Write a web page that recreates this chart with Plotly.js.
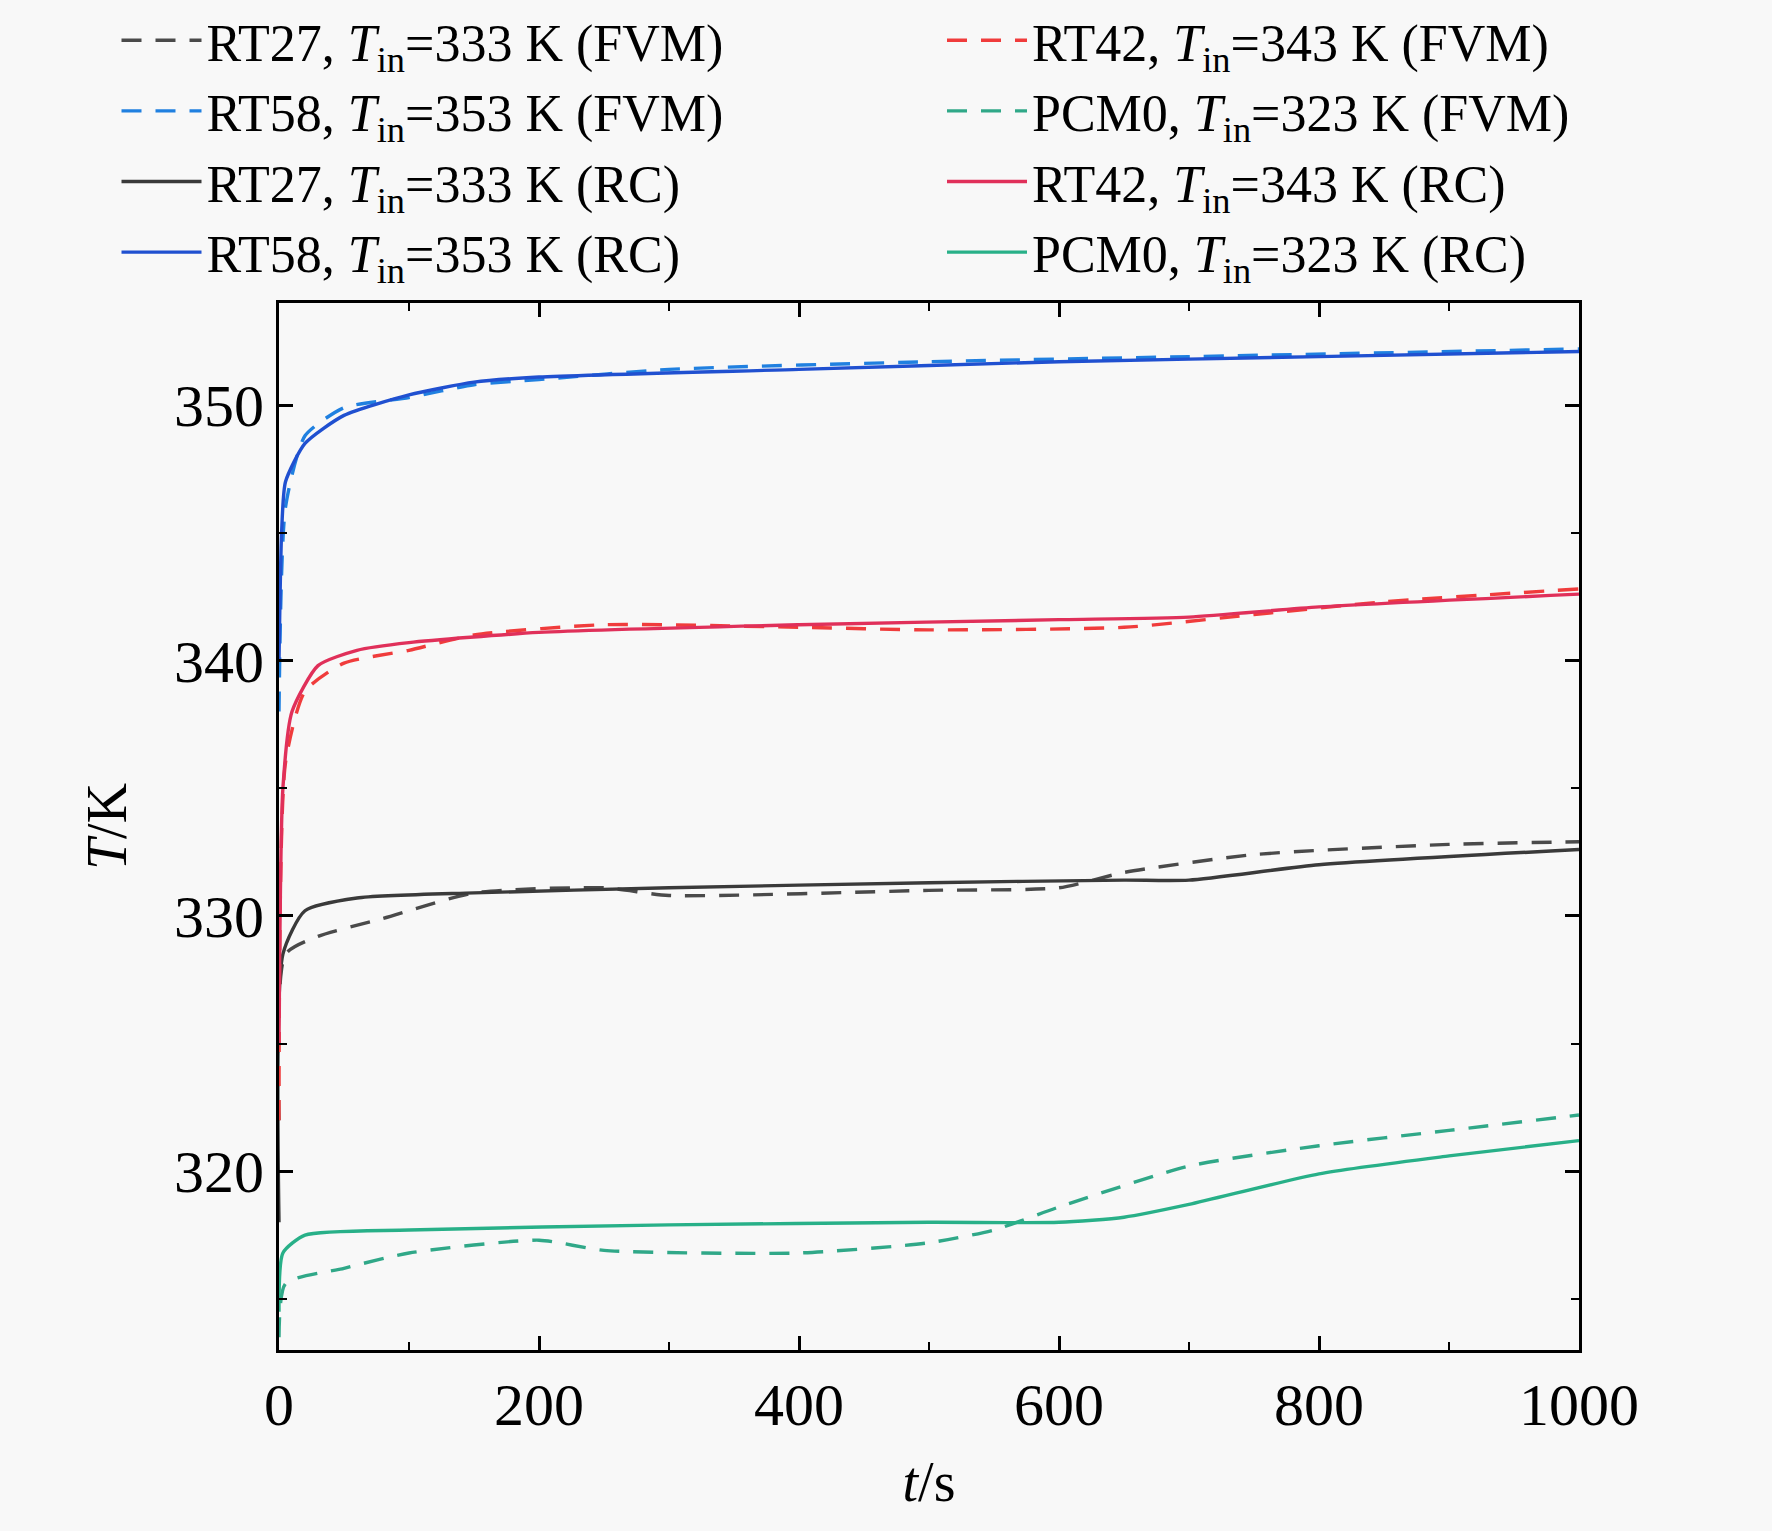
<!DOCTYPE html>
<html><head><meta charset="utf-8">
<script src="https://cdn.plot.ly/plotly-3.0.1.min.js"></script>
<style>body{margin:0;background:#f8f8f8}</style>
</head><body><div id="chart" style="width:1772px;height:1531px"></div>
<script>
// time points and temperatures
var tB_rc = [0, 2, 5, 20, 50, 100, 150, 200, 400, 600, 800, 1000];
var yB_rc = [340, 345, 347, 348.5, 349.6, 350.4, 350.9, 351.1, 351.4, 351.7, 351.9, 352.1];
var tB_fv = [0, 5, 20, 50, 100, 150, 200, 300, 500, 700, 1000];
var yB_fv = [338, 346, 348.8, 349.9, 350.3, 350.8, 351.0, 351.4, 351.7, 351.9, 352.2];
var tR_rc = [0, 3, 10, 30, 60, 100, 200, 400, 600, 700, 800, 1000];
var yR_rc = [325, 335, 338, 339.8, 340.4, 340.7, 341.1, 341.4, 341.6, 341.7, 342.1, 342.6];
var tR_fv = [0, 5, 20, 50, 100, 150, 250, 400, 500, 650, 750, 850, 1000];
var yR_fv = [322, 336, 338.8, 339.9, 340.4, 341, 341.4, 341.3, 341.2, 341.3, 341.8, 342.3, 342.8];
var tG_rc = [0, 3, 20, 60, 150, 300, 500, 650, 700, 800, 1000];
var yG_rc = [318, 328.5, 330.2, 330.7, 330.9, 331.1, 331.3, 331.4, 331.4, 332, 332.6];
var tG_fv = [0, 5, 30, 80, 150, 250, 300, 500, 600, 650, 750, 900, 1000];
var yG_fv = [322, 328.5, 329.2, 329.9, 330.9, 331.1, 330.8, 331, 331.1, 331.7, 332.4, 332.8, 332.9];
var tP_rc = [0, 3, 20, 100, 300, 500, 600, 650, 700, 800, 900, 1000];
var yP_rc = [314.5, 316.8, 317.5, 317.7, 317.9, 318.0, 318.0, 318.2, 318.7, 319.9, 320.6, 321.2];
var tP_fv = [0, 5, 50, 100, 200, 250, 400, 500, 550, 600, 700, 800, 900, 1000];
var yP_fv = [313.5, 315.6, 316.2, 316.8, 317.3, 316.9, 316.8, 317.2, 317.7, 318.6, 320.2, 321.0, 321.6, 322.2];

var sub = ', <i>T</i><sub>in</sub>=';
function tr(x, y, name, color, dash, lg) {
  return {x: x, y: y, name: name, type: 'scatter', mode: 'lines', legend: lg,
    line: {color: color, width: 3.4, dash: dash, shape: 'spline', smoothing: 0.6}};
}
var D = '20px,14px';
var data = [
  tr(tG_fv, yG_fv, 'RT27' + sub + '333 K (FVM)', '#4a4a4a', D, 'legend'),
  tr(tB_fv, yB_fv, 'RT58' + sub + '353 K (FVM)', '#2080e0', D, 'legend'),
  tr(tG_rc, yG_rc, 'RT27' + sub + '333 K (RC)', '#3a3a3a', 'solid', 'legend'),
  tr(tB_rc, yB_rc, 'RT58' + sub + '353 K (RC)', '#2050d0', 'solid', 'legend'),
  tr(tR_fv, yR_fv, 'RT42' + sub + '343 K (FVM)', '#f03c3c', D, 'legend2'),
  tr(tP_fv, yP_fv, 'PCM0' + sub + '323 K (FVM)', '#30a888', D, 'legend2'),
  tr(tR_rc, yR_rc, 'RT42' + sub + '343 K (RC)', '#e0305a', 'solid', 'legend2'),
  tr(tP_rc, yP_rc, 'PCM0' + sub + '323 K (RC)', '#28b088', 'solid', 'legend2')
];

var ax = {
  showgrid: false, zeroline: false, showline: true, linecolor: '#000', linewidth: 3,
  mirror: 'ticks', ticks: 'inside', ticklen: 14, tickwidth: 3, tickcolor: '#000',
  tickfont: {size: 60, family: 'Liberation Serif', color: '#000'},
  minor: {ticks: 'inside', ticklen: 8, tickwidth: 2, tickcolor: '#000'}
};
var lgBase = {orientation: 'v', yref: 'container', y: 1.005, yanchor: 'top', xanchor: 'left',
  bgcolor: 'rgba(0,0,0,0)', font: {size: 52, family: 'Liberation Serif'},
  tracegroupgap: 0, itemwidth: 80, traceorder: 'normal'};
var layout = {
  width: 1772, height: 1531,
  paper_bgcolor: '#f8f8f8', plot_bgcolor: '#f8f8f8',
  margin: {l: 279, r: 193, t: 303, b: 181, autoexpand: false},
  font: {family: 'Liberation Serif', color: '#000'},
  showlegend: true,
  legend: Object.assign({}, lgBase, {x: -0.125}),
  legend2: Object.assign({}, lgBase, {x: 0.51}),
  xaxis: Object.assign({}, ax, {range: [0, 1000], dtick: 200, minor: Object.assign({}, ax.minor, {dtick: 100}),
    title: {text: '<i>t</i>/s', font: {size: 56, family: 'Liberation Serif'}, standoff: 25}}),
  yaxis: Object.assign({}, ax, {range: [313, 354], dtick: 10, tick0: 320, minor: Object.assign({}, ax.minor, {dtick: 5}),
    title: {text: '<i>T</i>/K', font: {size: 56, family: 'Liberation Serif'}, standoff: 30}})
};
Plotly.newPlot('chart', data, layout, {displayModeBar: false});
</script></body></html>
